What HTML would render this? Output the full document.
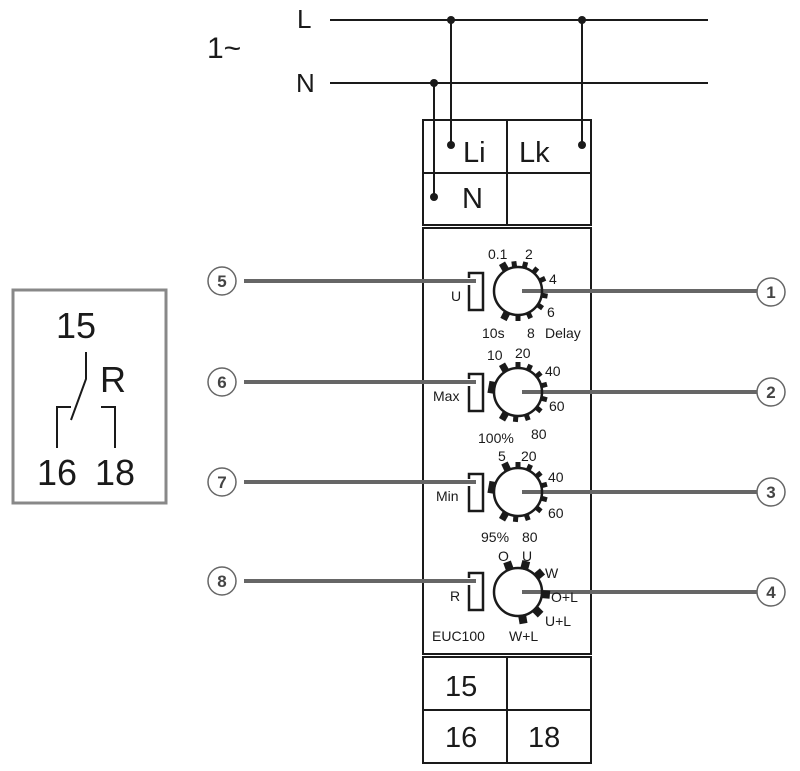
<!DOCTYPE html>
<html><head><meta charset="utf-8"><style>
body{margin:0;background:#fff;}
svg{display:block;font-family:"Liberation Sans",sans-serif;}
</style></head><body>
<svg width="800" height="771" viewBox="0 0 800 771" xmlns="http://www.w3.org/2000/svg">
<g stroke="#1a1a1a" stroke-width="2" fill="none">
<line x1="330" y1="20" x2="708" y2="20"/>
<line x1="330" y1="83" x2="708" y2="83"/>
<line x1="451" y1="20" x2="451" y2="145"/>
<line x1="582" y1="20" x2="582" y2="145"/>
<line x1="434" y1="83" x2="434" y2="197"/>
<rect x="423" y="120" width="168" height="105"/>
<line x1="507" y1="120" x2="507" y2="225"/>
<line x1="423" y1="173" x2="591" y2="173"/>
<rect x="423" y="228" width="168" height="426"/>
<rect x="423" y="657" width="168" height="106"/>
<line x1="507" y1="657" x2="507" y2="763"/>
<line x1="423" y1="710" x2="591" y2="710"/>
</g>
<g fill="#1a1a1a">
<circle cx="451" cy="20" r="4"/><circle cx="582" cy="20" r="4"/><circle cx="434" cy="83" r="4"/>
<circle cx="451" cy="145" r="4"/><circle cx="582" cy="145" r="4"/><circle cx="434" cy="197" r="4"/>
</g>
<g fill="#1a1a1a" font-size="26">
<text x="297" y="28">L</text><text x="296" y="92">N</text>
<text x="207" y="58" font-size="30">1~</text>
<text x="463" y="162" font-size="29">Li</text>
<text x="519" y="162" font-size="29">Lk</text>
<text x="462" y="208" font-size="29">N</text>
<text x="445" y="696" font-size="29">15</text>
<text x="445" y="747" font-size="29">16</text>
<text x="528" y="747" font-size="29">18</text>
</g>
<rect x="13" y="290" width="153" height="213" fill="none" stroke="#888" stroke-width="3"/>
<g fill="#1a1a1a" font-size="36">
<text x="56" y="338">15</text><text x="100" y="392">R</text>
<text x="37" y="485">16</text><text x="95" y="485">18</text>
</g>
<g stroke="#1a1a1a" stroke-width="2" fill="none">
<polyline points="86,352 86,379 71,420"/>
<polyline points="57,448 57,407 71,407"/>
<polyline points="101,407 115,407 115,448"/>
</g>
<g stroke="#666" stroke-width="4">
<line x1="244" y1="281" x2="476" y2="281"/><line x1="244" y1="382" x2="476" y2="382"/>
<line x1="244" y1="482" x2="476" y2="482"/><line x1="244" y1="581" x2="476" y2="581"/>
<line x1="522" y1="291" x2="757" y2="291"/><line x1="522" y1="392" x2="757" y2="392"/>
<line x1="522" y1="492" x2="757" y2="492"/><line x1="522" y1="592" x2="757" y2="592"/>
</g>
<g fill="#fff" stroke="#666" stroke-width="1.5">
<circle cx="222" cy="281" r="14"/><circle cx="222" cy="382" r="14"/><circle cx="222" cy="482" r="14"/><circle cx="222" cy="581" r="14"/>
<circle cx="771" cy="292" r="14"/><circle cx="771" cy="392" r="14"/><circle cx="771" cy="492" r="14"/><circle cx="771" cy="592" r="14"/>
</g>
<g fill="#444" font-size="17" font-weight="bold" text-anchor="middle">
<text x="222" y="287">5</text><text x="222" y="388">6</text><text x="222" y="488">7</text><text x="222" y="587">8</text>
<text x="771" y="298">1</text><text x="771" y="398">2</text><text x="771" y="498">3</text><text x="771" y="598">4</text>
</g>
<g stroke="#1a1a1a" stroke-width="2.5" fill="none">
<circle cx="518" cy="291" r="24"/><circle cx="518" cy="392" r="24"/><circle cx="518" cy="492" r="24"/><circle cx="518" cy="592" r="24"/>
<path d="M469,278 V273 H483 V310 H469 V285"/>
<path d="M469,379 V374 H483 V411 H469 V386"/>
<path d="M469,479 V474 H483 V511 H469 V486"/>
<path d="M469,578 V573 H483 V610 H469 V585"/>
</g>
<g fill="#1a1a1a">
<g transform="translate(518 291)">
<rect x="-3.5" y="-32" width="7" height="9" transform="rotate(-30)"/><rect x="-2.5" y="-30" width="5" height="7" transform="rotate(-8)"/>
<rect x="-2.5" y="-30" width="5" height="7" transform="rotate(15)"/><rect x="-2.5" y="-30" width="5" height="7" transform="rotate(40)"/>
<rect x="-2.5" y="-30" width="5" height="7" transform="rotate(65)"/><rect x="-2.5" y="-30" width="5" height="7" transform="rotate(100)"/>
<rect x="-2.5" y="-30" width="5" height="7" transform="rotate(125)"/><rect x="-2.5" y="-30" width="5" height="7" transform="rotate(155)"/>
<rect x="-2.5" y="-30" width="5" height="7" transform="rotate(180)"/><rect x="-3.5" y="-32" width="7" height="9" transform="rotate(207)"/>
</g>
<g transform="translate(518 392)">
<rect x="-3.5" y="-32" width="7" height="9" transform="rotate(-30)"/><rect x="-2.5" y="-30" width="5" height="7" transform="rotate(0)"/>
<rect x="-2.5" y="-30" width="5" height="7" transform="rotate(25)"/><rect x="-2.5" y="-30" width="5" height="7" transform="rotate(50)"/>
<rect x="-2.5" y="-30" width="5" height="7" transform="rotate(75)"/><rect x="-2.5" y="-30" width="5" height="7" transform="rotate(105)"/>
<rect x="-2.5" y="-30" width="5" height="7" transform="rotate(130)"/><rect x="-2.5" y="-30" width="5" height="7" transform="rotate(160)"/>
<rect x="-2.5" y="-30" width="5" height="7" transform="rotate(185)"/><rect x="-3.5" y="-32" width="7" height="9" transform="rotate(210)"/>
<rect x="-6" y="-30" width="12" height="7" transform="rotate(-80)"/>
</g>
<g transform="translate(518 492)">
<rect x="-3.5" y="-32" width="7" height="9" transform="rotate(-25)"/><rect x="-2.5" y="-30" width="5" height="7" transform="rotate(0)"/>
<rect x="-2.5" y="-30" width="5" height="7" transform="rotate(25)"/><rect x="-2.5" y="-30" width="5" height="7" transform="rotate(50)"/>
<rect x="-2.5" y="-30" width="5" height="7" transform="rotate(75)"/><rect x="-2.5" y="-30" width="5" height="7" transform="rotate(105)"/>
<rect x="-2.5" y="-30" width="5" height="7" transform="rotate(130)"/><rect x="-2.5" y="-30" width="5" height="7" transform="rotate(160)"/>
<rect x="-2.5" y="-30" width="5" height="7" transform="rotate(185)"/><rect x="-3.5" y="-32" width="7" height="9" transform="rotate(210)"/>
<rect x="-6" y="-30" width="12" height="7" transform="rotate(-80)"/>
</g>
<g transform="translate(518 592)">
<rect x="-4" y="-32" width="8" height="9" transform="rotate(-20)"/><rect x="-4" y="-32" width="8" height="9" transform="rotate(15)"/>
<rect x="-4" y="-32" width="8" height="9" transform="rotate(50)"/><rect x="-4" y="-32" width="8" height="9" transform="rotate(95)"/>
<rect x="-4" y="-32" width="8" height="9" transform="rotate(135)"/><rect x="-4" y="-32" width="8" height="9" transform="rotate(170)"/>
</g>
</g>
<g fill="#1a1a1a" font-size="14">
<text x="488" y="259">0.1</text><text x="525" y="259">2</text><text x="549" y="284">4</text>
<text x="547" y="317">6</text><text x="482" y="338">10s</text><text x="527" y="338">8</text><text x="545" y="338">Delay</text>
<text x="451" y="301">U</text>
<text x="487" y="360">10</text><text x="515" y="358">20</text><text x="545" y="376">40</text>
<text x="549" y="411">60</text><text x="478" y="443">100%</text><text x="531" y="439">80</text>
<text x="433" y="401">Max</text>
<text x="498" y="461">5</text><text x="521" y="461">20</text><text x="548" y="482">40</text>
<text x="548" y="518">60</text><text x="481" y="542">95%</text><text x="522" y="542">80</text>
<text x="436" y="501">Min</text>
<text x="498" y="561">O</text><text x="522" y="561">U</text><text x="545" y="578">W</text>
<text x="551" y="602">O+L</text><text x="545" y="626">U+L</text><text x="509" y="641">W+L</text>
<text x="450" y="601">R</text><text x="432" y="641">EUC100</text>
</g>
</svg>
</body></html>
